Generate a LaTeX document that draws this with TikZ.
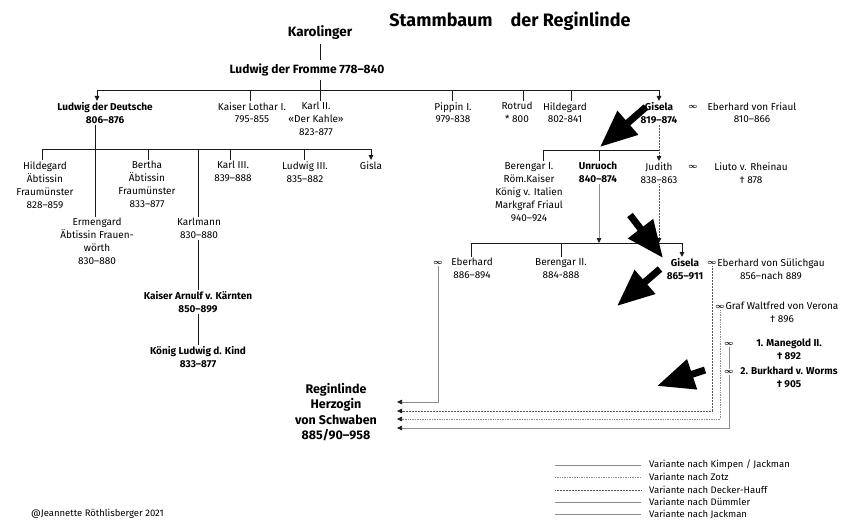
\documentclass[tikz,border=0pt]{standalone}
\usepackage{fontspec}
\setmainfont{Fira Sans}
\usepackage{tikz}
\usetikzlibrary{calc,arrows.meta,positioning}
\definecolor{treex}{HTML}{1A1A1A}
\definecolor{varx}{HTML}{8C8C8C}
\definecolor{vardk}{HTML}{555555}
\tikzset{
  pers/.style={font=\fontsize{10}{13}\selectfont,align=center,inner sep=1pt},
  persb/.style={pers,font=\fontsize{10}{13}\selectfont\bfseries},
  inf/.style={font=\fontsize{7}{8}\selectfont\boldmath,inner sep=1.5pt},
  ln/.style={line width=0.9pt,treex},
  ar/.style={ln,-{Triangle[length=5pt,width=4.5pt]}},
  grline/.style={line width=0.7pt,varx},
  dotline/.style={line width=0.8pt,vardk,dash pattern=on 0.8pt off 0.7pt},
  ltdot/.style={line width=0.7pt,varx,dash pattern=on 0.7pt off 1pt},
  tipL/.style={-{Triangle[length=5pt,width=4.5pt,color=treex]}},
  bigarr/.style={line width=7pt,-{Triangle[length=37pt,width=30pt]},black},
  leg/.style={font=\fontsize{9.5}{11}\selectfont,anchor=west,inner sep=1pt}
}

\begin{document}
\begin{tikzpicture}[x=1pt,y=-1pt]
\useasboundingbox (0,0) rectangle (851,532);
% Titel
\node[font=\fontsize{18}{21}\selectfont\bfseries] (title) at (510,21) {Stammbaum\quad der Reginlinde};
\node[font=\fontsize{13.5}{16}\selectfont\bfseries] (karol) at (320,33) {Karolinger};
\node[font=\fontsize{12}{14}\selectfont\bfseries] (lfromme) at (307,70) {Ludwig der Fromme 778–840};

% Kinder Ludwig der Fromme
\node[persb,anchor=north] (ldd) at (105,101) {Ludwig der Deutsche\\806–876};
\node[pers,anchor=north] (lothar) at (252,101) {Kaiser Lothar I.\\795-855};
\node[pers,anchor=north] (karl2) at (316,101) {Karl II.\\«Der Kahle»\\823-877};
\node[pers,anchor=north] (pippin) at (453,101) {Pippin I.\\979-838};
\node[pers,anchor=north] (rotrud) at (517,101) {Rotrud\\* 800};
\node[pers,anchor=north] (hildeg) at (565,101) {Hildegard\\802-841};
\node[persb,anchor=north] (gisela1) at (659,101) {Gisela\\819–874};
\node[inf] (inf1) at (693,107) {$\infty$};
\node[pers,anchor=north] (ebfriaul) at (752,101) {Eberhard von Friaul\\810–866};

% Kinder Ludwig der Deutsche
\node[pers,anchor=north] (hild2) at (45,160) {Hildegard\\Äbtissin\\Fraumünster\\828–859};
\node[pers,anchor=north] (bertha) at (147,160) {Bertha\\Äbtissin\\Fraumünster\\833–877};
\node[pers,anchor=north] (karl3) at (233,160) {Karl III.\\839–888};
\node[pers,anchor=north] (ludwig3) at (305,160) {Ludwig III.\\835–882};
\node[pers,anchor=north] (gisla) at (371,160) {Gisla};
\node[pers,anchor=north] (ermeng) at (97,217) {Ermengard\\Äbtissin Frauen-\\wörth\\830–880};
\node[pers,anchor=north] (karlmann) at (199,217) {Karlmann\\830–880};
\node[persb,anchor=north] (arnulf) at (198,290) {Kaiser Arnulf v. Kärnten\\850–899};
\node[persb,anchor=north] (ludkind) at (198,345) {König Ludwig d. Kind\\833–877};

% Reginlinde
\node[font=\fontsize{12.5}{15.4}\selectfont\bfseries,align=center] (regin) at (336,412) {Reginlinde\\Herzogin\\von Schwaben\\885/90–958};

% Kinder Gisela / Eberhard von Friaul
\node[pers,anchor=north] (beren1) at (529,161) {Berengar I.\\Röm.Kaiser\\König v. Italien\\Markgraf Friaul\\940–924};
\node[persb,anchor=north] (unruoch) at (598,161) {Unruoch\\840–874};
\node[pers,anchor=north] (judith) at (659,161) {Judith\\838–863};
\node[inf] (inf2) at (693,167) {$\infty$};
\node[pers,anchor=north] (liuto) at (751,161) {Liuto v. Rheinau\\\textdagger~878};

% Enkel
\node[inf] (inf3) at (438,263) {$\infty$};
\node[pers,anchor=north] (eberh) at (472,257) {Eberhard\\886–894};
\node[pers,anchor=north] (beren2) at (561,257) {Berengar II.\\884-888};
\node[persb,anchor=north] (gisela2) at (685,257) {Gisela\\865–911};
\node[inf] (inf4) at (712,263) {$\infty$};
\node[pers,anchor=north] (suel) at (771,257) {Eberhard von Sülichgau\\856–nach 889};
\node[inf] (inf5) at (720,307) {$\infty$};
\node[pers,anchor=north] (waltf) at (782,301) {Graf Waltfred von Verona\\\textdagger~896};
\node[inf] (inf6) at (729,344) {$\infty$};
\node[persb,anchor=north] (maneg) at (789,338) {1. Manegold II.\\\textdagger~892};
\node[inf] (inf7) at (729,372) {$\infty$};
\node[persb,anchor=north] (burkh) at (789,366) {2. Burkhard v. Worms\\\textdagger~905};

% Linien
\coordinate (busA) at (0,90);
\coordinate (busD) at (0,149);
\coordinate (busE) at (0,150);
\coordinate (busF) at (0,243);
\draw[ln] (karol) -- (karol |- lfromme.north);
\draw[ln] (karol |- lfromme.south) -- (karol |- karl2.north);
\draw[ln] ([xshift=-8pt]ldd.north |- busA) -- (gisela1.north |- busA);
\draw[ar] ([xshift=-8pt]ldd.north |- busA) -- ([xshift=-8pt]ldd.north);
\draw[ar] (gisela1.north |- busA) -- (gisela1.north);
\foreach \n/\s in {lothar/-2,pippin/-1,rotrud/6,hildeg/6}
  \draw[ln] ([xshift=\s pt]\n.north |- busA) -- ([xshift=\s pt]\n.north);

\draw[ln] ([xshift=-10pt]ldd.south) -- ([xshift=-10pt]ldd.south |- ermeng.north);
\draw[ln] ([xshift=-3pt]hild2.north |- busD) -- (gisla.north |- busD);
\foreach \n/\s in {hild2/-3,bertha/1,karl3/-3,ludwig3/-1,karlmann/-1}
  \draw[ln] ([xshift=\s pt]\n.north |- busD) -- ([xshift=\s pt]\n.north);
\draw[ar] (gisla.north |- busD) -- (gisla.north);
\draw[ln] ([xshift=-1pt]karlmann.south) -- ([xshift=-1pt]karlmann.south |- arnulf.north);
\draw[ln] (arnulf.south) -- (arnulf.south |- ludkind.north);

\draw[ln] ([xshift=14pt]beren1.north |- busE) -- (judith.north |- busE);
\draw[ln] ([xshift=14pt]beren1.north |- busE) -- ([xshift=14pt]beren1.north);
\draw[ln] ([xshift=1pt]unruoch.north |- busE) -- ([xshift=1pt]unruoch.north);
\draw[dotline,tipL] (gisela1.south) -- (judith.north);

\draw[grline,tipL] ([xshift=1pt]unruoch.south) -- ([xshift=1pt]unruoch.south |- busF);
\draw[dotline,tipL] (judith.south) -- (judith.south |- busF);
\draw[ln] ([xshift=-1pt]eberh.north |- busF) -- ([xshift=-3pt]gisela2.north |- busF);
\foreach \n/\s in {eberh/-1,beren2/0}
  \draw[ln] ([xshift=\s pt]\n.north |- busF) -- ([xshift=\s pt]\n.north);
\draw[ar] ([xshift=-3pt]gisela2.north |- busF) -- ([xshift=-3pt]gisela2.north);

% Varianten zu Reginlinde
\coordinate (rg1) at (397,402);
\coordinate (rg2) at (397,411);
\coordinate (rg3) at (397,419);
\coordinate (rg4) at (397,428);
\draw[grline,tipL] (inf3.south) |- (rg1);
\draw[dotline,tipL] (inf4.south) |- (rg2);
\draw[ltdot,tipL] (inf5.south) |- (rg3);
\draw[grline] (inf6.south) -- (inf7.north);
\draw[grline,tipL] (inf7.south) |- (rg4);

% grosse Pfeile
\coordinate (ba1t) at (646,107);
\coordinate (ba1h) at (600,147);
\coordinate (ba2t) at (630,215);
\coordinate (ba2h) at (663,258);
\coordinate (ba3t) at (660,269);
\coordinate (ba3h) at (617,306);
\coordinate (ba4t) at (705,370);
\coordinate (ba4h) at (657,386);
\foreach \a in {1,...,4}
  \draw[bigarr] (ba\a t) -- (ba\a h);

% Legende
\foreach \y/\st/\t in {465/grline/{Variante nach Kimpen / Jackman},
                       477/ltdot/{Variante nach Zotz},
                       490/dotline/{Variante nach Decker-Hauff},
                       502/grline/{Variante nach Dümmler},
                       514/grline/{Variante nach Jackman}}{
  \coordinate (la\y) at (555,\y);
  \node[leg] (lt\y) at (648,\y) {\t};
  \draw[\st] (la\y) -- ([xshift=-7pt]lt\y.west);
}
\node[leg] (copy) at (30,514) {@Jeannette Röthlisberger 2021};
\end{tikzpicture}
\end{document}
